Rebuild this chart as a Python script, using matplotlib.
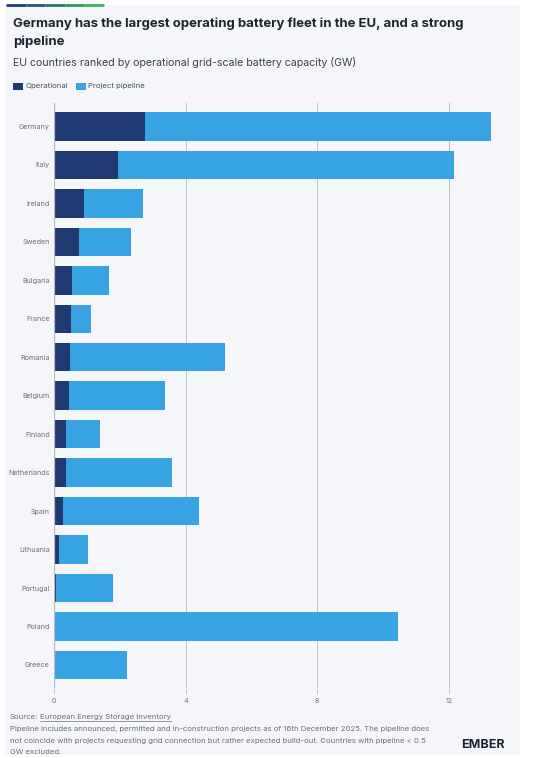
import matplotlib.pyplot as plt
from matplotlib.patches import Rectangle
import numpy as np

# data (GW)
countries = ['Germany', 'Italy', 'Ireland', 'Sweden', 'Bulgaria', 'France', 'Romania',
             'Belgium', 'Finland', 'Netherlands', 'Spain', 'Lithuania', 'Portugal',
             'Poland', 'Greece']
operational = [2.77, 1.95, 0.91, 0.75, 0.55, 0.52, 0.49, 0.46, 0.37, 0.37, 0.28, 0.16, 0.05, 0.0, 0.0]
pipeline = [10.50, 10.22, 1.81, 1.60, 1.12, 0.60, 4.71, 2.91, 1.04, 3.22, 4.13, 0.86, 1.73, 10.47, 2.21]
xticks = [0, 4, 8, 12]

navy = '#1f3a70'
blue = '#38a3e3'
bg = '#f5f6fa'

plt.rcParams['font.family'] = ['Inter', 'DejaVu Sans']

W, H = 541, 758
fig = plt.figure(figsize=(W / 100, H / 100), dpi=100)
fig.patch.set_facecolor('white')

# light panel behind everything
fig.patches.append(Rectangle((5 / W, 3 / H), 515 / W, 750 / H, transform=fig.transFigure,
                             facecolor=bg, edgecolor='none', zorder=0))
# accent line on top (navy -> green)
cols = ['#1f3a70', '#1f5a6e', '#1f7a6a', '#2a9a63', '#3cb35a']
seg = (104 - 6) / len(cols)
for i, c in enumerate(cols):
    fig.add_artist(plt.Line2D([(6 + i * seg) / W, (6 + (i + 1) * seg) / W], [1 - 5 / H, 1 - 5 / H],
                              color=c, lw=2, transform=fig.transFigure, solid_capstyle='butt'))

ax = fig.add_axes([54 / W, 1 - 688 / H, (14 * 32.9) / W, (688 - 103) / H])
ax.set_zorder(5)
ax.set_facecolor(bg)
y = np.arange(len(countries))
ax.barh(y, operational, height=0.74, color=navy, zorder=3)
ax.barh(y, pipeline, left=operational, height=0.74, color=blue, zorder=3)

ax.set_xlim(0, 14)
ax.set_ylim(14.6, -0.61)
ax.set_yticks(y)
ax.set_yticklabels(countries, fontsize=5.2, color='#6b6f7b')
ax.set_xticks(xticks)
ax.set_xticklabels([str(t) for t in xticks], fontsize=5.2, color='#6b6f7b')
ax.tick_params(axis='y', length=0, pad=3)
ax.tick_params(axis='x', length=4, width=0.6, color='#bcc0c8', pad=3)
for s in ax.spines.values():
    s.set_visible(False)
ax.grid(axis='x', color='#bcc0c8', lw=0.7, zorder=1)
ax.axvline(0, color='#b5b9c2', lw=0.9, zorder=4)

# titles
fig.text(13 / W, 1 - 24 / H, 'Germany has the largest operating battery fleet in the EU, and a strong',
         fontsize=9.45, fontweight='bold', color='#1d2330', va='center')
fig.text(13 / W, 1 - 42 / H, 'pipeline', fontsize=9.45, fontweight='bold', color='#1d2330', va='center')
fig.text(13 / W, 1 - 62 / H, 'EU countries ranked by operational grid-scale battery capacity (GW)',
         fontsize=7.6, color='#3a3f4b', va='center')

# legend
fig.patches.append(Rectangle((13 / W, 1 - 89.5 / H), 10 / W, 7 / H, transform=fig.transFigure,
                             facecolor=navy, edgecolor='none'))
fig.text(26 / W, 1 - 86 / H, 'Operational', fontsize=5.6, color='#4a4f5b', va='center')
fig.patches.append(Rectangle((76 / W, 1 - 89.5 / H), 10 / W, 7 / H, transform=fig.transFigure,
                             facecolor=blue, edgecolor='none'))
fig.text(88 / W, 1 - 86 / H, 'Project pipeline', fontsize=5.6, color='#4a4f5b', va='center')

# footer
fg = '#6b6f7b'
fs = 5.6
fig.text(10 / W, 1 - 717 / H, 'Source:', fontsize=fs, color=fg, va='center')
fig.text(40 / W, 1 - 717 / H, 'European Energy Storage Inventory', fontsize=fs, color=fg,
         va='center')
fig.add_artist(plt.Line2D([40 / W, 171 / W], [1 - 721 / H, 1 - 721 / H], color=fg, lw=0.5,
                          transform=fig.transFigure))
notes = ['Pipeline includes announced, permitted and in-construction projects as of 16th December 2025. The pipeline does',
         'not coincide with projects requesting grid connection but rather expected build-out. Countries with pipeline < 0.5',
         'GW excluded.']
for i, line in enumerate(notes):
    fig.text(10 / W, 1 - (729 + 11.5 * i) / H, line, fontsize=fs, color=fg, va='center')
fig.text(505 / W, 1 - 745 / H, 'EMBER', fontsize=9, fontweight='bold', color='#1d2330',
         ha='right', va='center')

fig.savefig('out.png', dpi=100, facecolor='white')
